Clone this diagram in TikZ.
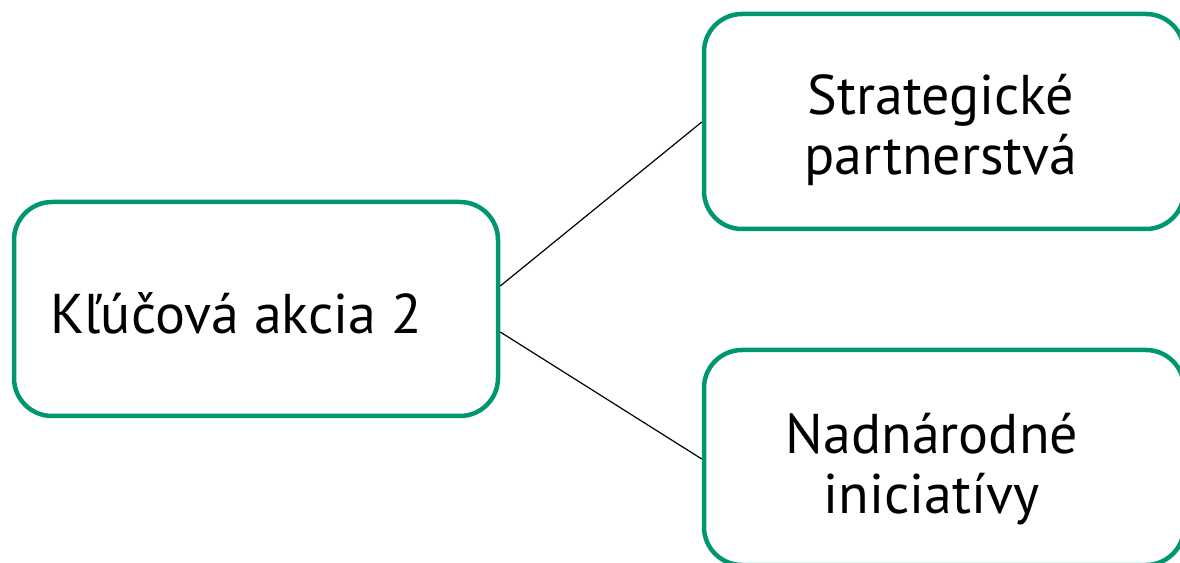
\documentclass[tikz,border=0pt]{standalone}
\usepackage{fontspec}
\setmainfont{PT Sans}
\definecolor{boxgreen}{RGB}{0,150,112}
\begin{document}
\begin{tikzpicture}[x=1pt,y=1pt,
  box/.style={draw=boxgreen, line width=4.5pt, rounded corners=38pt, fill=white, inner sep=0pt},
  txt/.style={font=\fontsize{56}{60}\selectfont, align=center, inner sep=0pt},
  link/.style={draw=black, line width=1.2pt}]
\useasboundingbox (0,0) rectangle (1180,562);
\begin{scope}
\clip (0,0) rectangle (1180,562);
\node[box, minimum width=484pt, minimum height=214pt] (a) at (256,253) {};
\node[box, minimum width=480pt, minimum height=215pt] (b) at (944,440.5) {};
\node[box, minimum width=480pt, minimum height=215pt] (c) at (944,104.5) {};
\end{scope}
\node[txt] (ta) at (236,249) {Kľúčová akcia 2};
\node[txt] (tb) at (941,432) {Strategické\\partnerstvá};
\node[txt] (tc) at (932,93) {Nadnárodné\\iniciatívy};
\draw[link] ([yshift=23pt]a.east) -- ([yshift=-0.5pt]b.west);
\draw[link] ([yshift=-23pt]a.east) -- ([yshift=-1.5pt]c.west);
\end{tikzpicture}
\end{document}
